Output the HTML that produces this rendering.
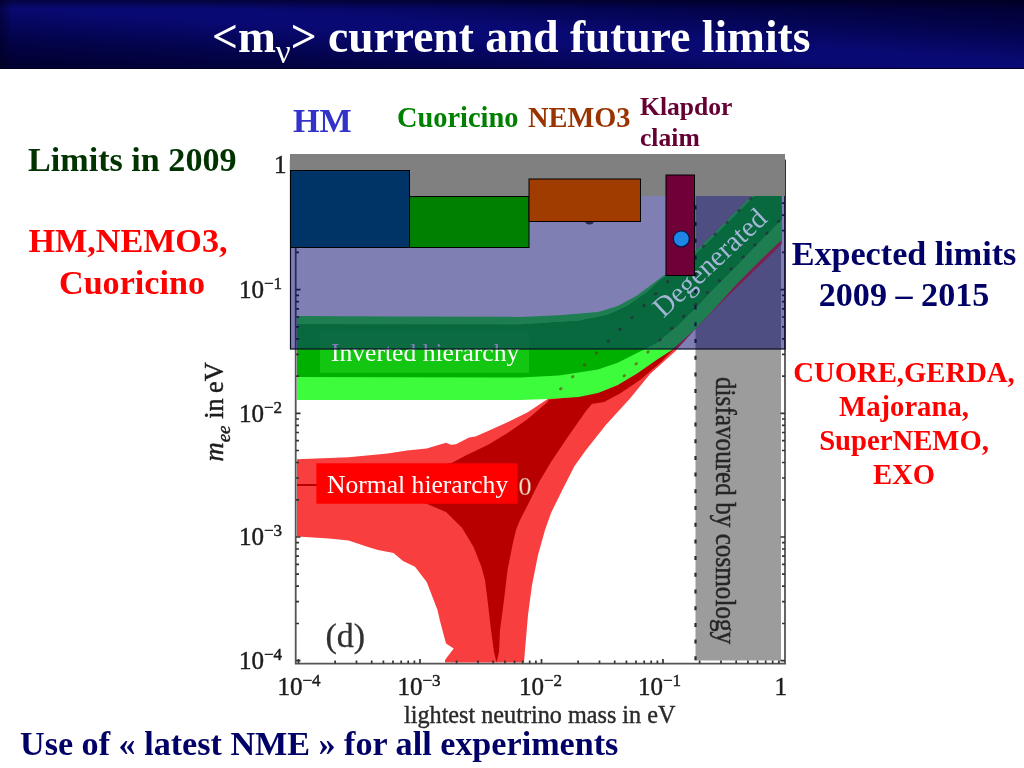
<!DOCTYPE html>
<html lang="en">
<head>
<meta charset="utf-8">
<title>&lt;mν&gt; current and future limits</title>
<style>
html,body{margin:0;padding:0;background:#fff;}
body{width:1024px;height:768px;overflow:hidden;position:relative;font-family:"Liberation Serif",serif;}
#hdr{position:absolute;left:0;top:0;width:1024px;height:69px;
 background:
  linear-gradient(to bottom, rgba(0,0,30,0.6) 0px, rgba(0,0,30,0) 9px),
  linear-gradient(to right, rgba(0,0,30,0.5) 0px, rgba(0,0,30,0) 12px),
  linear-gradient(to top right,#00002e 0%,#03034a 22%,#090974 46%,#090974 54%,#03034a 78%,#00002e 100%);
 border-bottom:1px solid #000025;box-sizing:border-box;}
svg{position:absolute;left:0;top:0;}
text{font-family:"Liberation Serif",serif;}
.b{font-weight:bold;}
</style>
</head>
<body>
<div id="hdr"></div>
<svg id="s" width="1024" height="768" viewBox="0 0 1024 768">
<!--PLOT-->
<rect x="695.5" y="160" width="85.5" height="500.5" fill="#9c9c9c"/>
<polygon points="297,459.3 348.6,457.3 387.7,453.4 407,450.5 426.7,448.5 440,444.5 446,442.7 451,444.8 456,444.2 469,437.6 475.5,436.5 488.6,430.8 508,422 527.7,412.2 547,399.5 600,360 680,280 781,180 781.7,244.2 722.5,301.5 695,329.5 675,351.5 650,374 630,398.5 605.8,425 586,450 574.5,466 562.8,489 551,513 545,530 538,555 532,585 528,615 525,650 524,662.5 445,662.5 445,660 453.7,648.5 446,643.5 440,621 437.5,610 426.7,582 415,566.7 403,561 393.5,553 378,550 368,547 348.6,540.4 329,538.4 297,536.4" fill="#f83e3e"/>
<polygon points="549,399.5 576.5,396.6 602,391.7 586,411 566.7,438.6 551,462 539.4,481.5 527.7,505 520,520 516,530 512.5,545 507.5,570 504,600 500,630 499,652 496.5,662.5 494,652 491,630 487.5,600 485,580 481.4,566.7 473.6,547 462,527.7 446,512 426.7,503.8 380,495 316,486 297,486 297,484 316,484 380,480 452,462.8 465.8,455.4 488.6,444.5 508,432.7 527.7,419 547,402.5" fill="#b80000"/>
<polygon points="598,393 617.7,385 637,373.5 656.7,359.8 680,343 660,363 640,380 620,393.5 604,402 592,404" fill="#b80000"/>
<polygon points="297,316 400,316.5 520,316.9 559,315.3 598,312 617.7,306 637,295.4 656.7,280.7 667,273 695,251.5 714,233.5 737,210.5 751,196.5 781,166 781.7,240 760.6,260 737,283.7 713.7,309.5 695.8,328.6 672,350 656.7,359.8 637,373.5 617.7,385 598,393 578.6,397 549,399 520,399.9 297,400" fill="#3cfc3c"/>
<polygon points="297,324.5 520,324.7 578.6,321 608,315 627.4,306 647,292.5 660.6,279.8 667,276 695,255 714,237 737,214 754,197 781,170 781.7,219.3 760.6,240.4 737,265 713.7,288.4 695.8,307.4 676,327 656.7,342.4 645,349 637,353 617.7,362.8 598,369.6 559,375.5 520,377.4 297,377" fill="#00b000"/>
<clipPath id="cpo"><rect x="290" y="150" width="495" height="199.4"/></clipPath>
<polygon points="297,324.5 520,324.7 578.6,321 608,315 627.4,306 647,292.5 660.6,279.8 667,276 695,255 714,237 737,214 754,197 781,170 781.7,219.3 760.6,240.4 737,265 713.7,288.4 695.8,307.4 676,327 656.7,342.4 645,349 637,353 617.7,362.8 598,369.6 559,375.5 520,377.4 297,377" fill="#0ed212" clip-path="url(#cpo)"/>
<path d="M560.5 389L760 189.5M624 376L788 212" stroke="#70280c" stroke-opacity="0.55" stroke-width="2.8" stroke-linecap="round" stroke-dasharray="0.8 16" fill="none"/>
<g stroke="#555" stroke-width="1.8" fill="none"><path d="M295.7 160V664.5M294.8 663.7H786M785 160V664.5"/></g>
<path d="M298.5 663.5v-4.5M335.1 663.5v-3M356.5 663.5v-3M371.7 663.5v-3M383.4 663.5v-3M393.0 663.5v-3M401.2 663.5v-3M408.2 663.5v-3M414.4 663.5v-3M420.0 663.5v-4.5M456.6 663.5v-3M478.0 663.5v-3M493.2 663.5v-3M504.9 663.5v-3M514.5 663.5v-3M522.7 663.5v-3M529.7 663.5v-3M535.9 663.5v-3M541.5 663.5v-4.5M578.1 663.5v-3M599.5 663.5v-3M614.7 663.5v-3M626.4 663.5v-3M636.0 663.5v-3M644.2 663.5v-3M651.2 663.5v-3M657.4 663.5v-3M663.0 663.5v-4.5M699.6 663.5v-3M721.0 663.5v-3M736.2 663.5v-3M747.9 663.5v-3M757.5 663.5v-3M765.7 663.5v-3M772.7 663.5v-3M778.9 663.5v-3M296 660.7h4.5M296 623.5h3M296 601.7h3M296 586.2h3M296 574.2h3M296 564.4h3M296 556.2h3M296 549.0h3M296 542.7h3M296 537.0h4.5M296 499.8h3M296 478.0h3M296 462.5h3M296 450.5h3M296 440.7h3M296 432.5h3M296 425.3h3M296 419.0h3M296 413.3h4.5M296 376.1h3M296 354.3h3M296 338.8h3M296 326.8h3M296 317.0h3M296 308.8h3M296 301.6h3M296 295.3h3M296 289.6h4.5M296 252.4h3M296 230.6h3M296 215.1h3M296 203.1h3M296 193.3h3M296 185.1h3M296 177.9h3M296 171.6h3M785 660.7h-4.5M785 623.5h-3M785 601.7h-3M785 586.2h-3M785 574.2h-3M785 564.4h-3M785 556.2h-3M785 549.0h-3M785 542.7h-3M785 537.0h-4.5M785 499.8h-3M785 478.0h-3M785 462.5h-3M785 450.5h-3M785 440.7h-3M785 432.5h-3M785 425.3h-3M785 419.0h-3M785 413.3h-4.5M785 376.1h-3M785 354.3h-3M785 338.8h-3M785 326.8h-3M785 317.0h-3M785 308.8h-3M785 301.6h-3M785 295.3h-3M785 289.6h-4.5M785 252.4h-3M785 230.6h-3M785 215.1h-3M785 203.1h-3M785 193.3h-3M785 185.1h-3M785 177.9h-3M785 171.6h-3" stroke="#333" stroke-width="1.7" fill="none"/>
<path d="M695.5 172V662" stroke="#2a2a2a" stroke-width="2.2" stroke-dasharray="4 12.7" fill="none"/>
<text x="239" y="297.8" font-size="25" fill="#1c1c1c" stroke="#1c1c1c" stroke-width="0.45" text-anchor="start">10<tspan font-size="17" dy="-9">−1</tspan></text>
<text x="239" y="421.5" font-size="25" fill="#1c1c1c" stroke="#1c1c1c" stroke-width="0.45" text-anchor="start">10<tspan font-size="17" dy="-9">−2</tspan></text>
<text x="239" y="545.2" font-size="25" fill="#1c1c1c" stroke="#1c1c1c" stroke-width="0.45" text-anchor="start">10<tspan font-size="17" dy="-9">−3</tspan></text>
<text x="239" y="669" font-size="25" fill="#1c1c1c" stroke="#1c1c1c" stroke-width="0.45" text-anchor="start">10<tspan font-size="17" dy="-9">−4</tspan></text>
<text x="274" y="173" font-size="25" fill="#1c1c1c" stroke="#1c1c1c" stroke-width="0.45">1</text>
<text x="277.5" y="695" font-size="25" fill="#1c1c1c" stroke="#1c1c1c" stroke-width="0.45" text-anchor="start">10<tspan font-size="17" dy="-9">−4</tspan></text>
<text x="397.5" y="695" font-size="25" fill="#1c1c1c" stroke="#1c1c1c" stroke-width="0.45" text-anchor="start">10<tspan font-size="17" dy="-9">−3</tspan></text>
<text x="519" y="695" font-size="25" fill="#1c1c1c" stroke="#1c1c1c" stroke-width="0.45" text-anchor="start">10<tspan font-size="17" dy="-9">−2</tspan></text>
<text x="638" y="695" font-size="25" fill="#1c1c1c" stroke="#1c1c1c" stroke-width="0.45" text-anchor="start">10<tspan font-size="17" dy="-9">−1</tspan></text>
<text x="774.5" y="695" font-size="25" fill="#1c1c1c" stroke="#1c1c1c" stroke-width="0.45">1</text>
<text x="404" y="723" font-size="24.2" fill="#2a2a2a" stroke="#2a2a2a" stroke-width="0.4">lightest neutrino mass in eV</text>
<text transform="translate(223.2,461.5) rotate(-90)" font-size="26.5" fill="#1c1c1c" stroke="#1c1c1c" stroke-width="0.45"><tspan font-style="italic">m</tspan><tspan font-style="italic" font-size="19" dy="7">ee</tspan><tspan dy="-7"> in eV</tspan></text>
<text transform="translate(716,377) rotate(90) scale(0.84,1)" font-size="30" fill="#262626" stroke="#262626" stroke-width="0.5">disfavoured by cosmology</text>
<text x="325.5" y="647" font-size="34" fill="#303030" stroke="#303030" stroke-width="0.3">(d)</text>
<text x="518.5" y="495.3" font-size="26" fill="#f6e4d0" stroke="#c86050" stroke-width="0.5">0</text>
<!--/PLOT-->
<!--OVERLAYS-->
<rect x="320" y="331.5" width="209" height="41.3" fill="#20d820" fill-opacity="0.55"/>
<text x="331" y="361" font-size="25.6" fill="#fff">Inverted hierarchy</text>
<rect x="316.4" y="463.3" width="201.1" height="40.4" fill="#ff0000"/>
<text x="327" y="492.8" font-size="25.6" fill="#fff">Normal hierarchy</text>
<rect x="290.5" y="160" width="494.5" height="189" fill="#000068" fill-opacity="0.5" stroke="#0a0a24" stroke-width="1.2"/>
<rect x="290" y="154" width="495" height="42" fill="#808080"/>
<text transform="translate(663.5,318.5) rotate(-43)" font-size="28.44" fill="#a4b6d8">Degenerated</text>
<rect x="290.5" y="170.5" width="119" height="77" fill="#003366" stroke="#000" stroke-width="1"/>
<rect x="409.5" y="196.5" width="119.5" height="51" fill="#008000" stroke="#000" stroke-width="1"/>
<ellipse cx="589.5" cy="221" rx="4.2" ry="3.6" fill="#2a2a48"/>
<rect x="529" y="179" width="111.5" height="42.5" fill="#a03c00" stroke="#000" stroke-width="1"/>
<rect x="666" y="175" width="28.5" height="100.5" fill="#700038" stroke="#000" stroke-width="1"/>
<circle cx="681.3" cy="238.8" r="8" fill="#1e86e6" stroke="#001a50" stroke-width="1.3"/>
<!--/OVERLAYS-->
<!--TEXT-->
<text class="b" x="212" y="52" font-size="45.5" fill="#fff">&lt;m<tspan font-size="33" font-weight="normal" dy="10.5">ν</tspan><tspan dy="-10.5">&gt; current and future limits</tspan></text>
<text class="b" x="28" y="171" font-size="34.13" fill="#003300">Limits in 2009</text>
<text class="b" x="128" y="252" font-size="34.13" fill="#ff0000" text-anchor="middle">HM,NEMO3,</text>
<text class="b" x="132" y="294" font-size="34.13" fill="#ff0000" text-anchor="middle">Cuoricino</text>
<text class="b" x="293" y="132" font-size="34.13" fill="#3333cc">HM</text>
<text class="b" x="397" y="127" font-size="28.4" fill="#008000">Cuoricino</text>
<text class="b" x="528" y="127" font-size="28.4" fill="#993300">NEMO3</text>
<text class="b" x="640" y="115" font-size="25.6" fill="#660033">Klapdor</text>
<text class="b" x="640" y="146" font-size="25.6" fill="#660033">claim</text>
<text class="b" x="904" y="265" font-size="34.13" fill="#000066" text-anchor="middle">Expected limits</text>
<text class="b" x="904" y="306" font-size="34.13" fill="#000066" text-anchor="middle">2009 – 2015</text>
<text class="b" x="904" y="381.8" font-size="28.7" fill="#ff0000" text-anchor="middle">CUORE,GERDA,</text>
<text class="b" x="904" y="415.8" font-size="28.7" fill="#ff0000" text-anchor="middle">Majorana,</text>
<text class="b" x="904" y="449.9" font-size="28.7" fill="#ff0000" text-anchor="middle">SuperNEMO,</text>
<text class="b" x="904" y="484" font-size="28.7" fill="#ff0000" text-anchor="middle">EXO</text>
<text class="b" x="20" y="754.5" font-size="34.13" fill="#000066">Use of « latest NME » for all experiments</text>
<!--/TEXT-->
</svg>
</body>
</html>
